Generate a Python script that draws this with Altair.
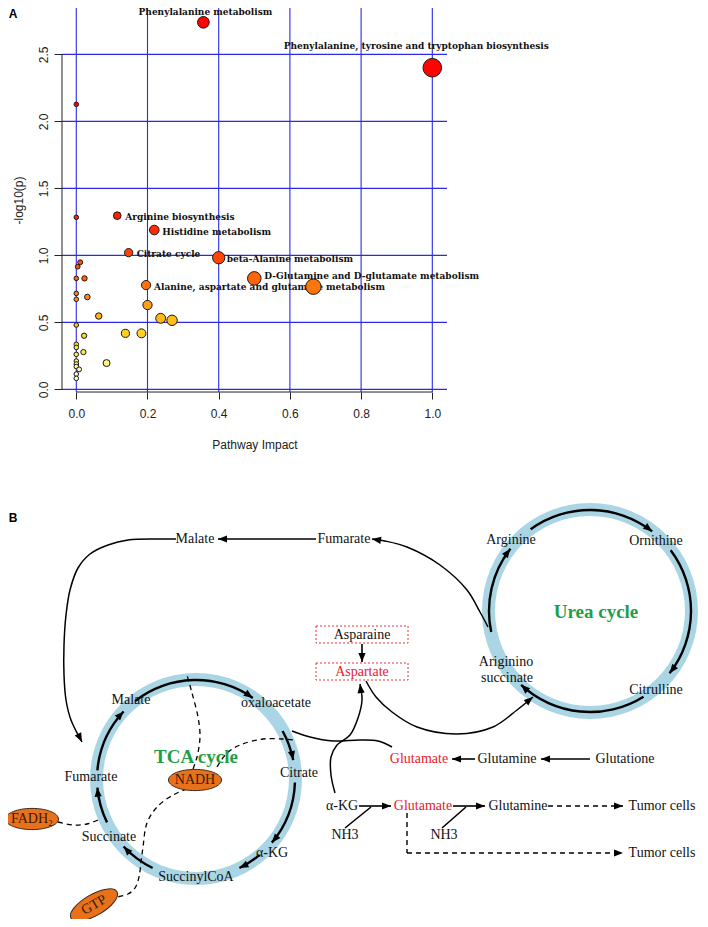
import math
import altair as alt
import numpy as np
import pandas as pd

# ======================= Panel A : pathway impact bubble plot =======================
impact = [0.357, 1.0, 0.0, 0.115, 0.0, 0.219, 0.147, 0.4, 0.011, 0.004, 0.0, 0.023,
          0.5, 0.196, 0.666, 0.0, 0.031, 0.0, 0.2, 0.063, 0.237, 0.269, 0.0, 0.138,
          0.183, 0.022, 0.0, 0.0, 0.02, 0.0, 0.0, 0.085, 0.0, 0.0, 0.008, 0.0, 0.0]
neglogp = [2.739, 2.40, 2.127, 1.296, 1.284, 1.189, 1.02, 0.982, 0.948, 0.915, 0.828, 0.828,
           0.828, 0.778, 0.766, 0.716, 0.689, 0.672, 0.629, 0.547, 0.53, 0.515, 0.48, 0.418,
           0.418, 0.40, 0.336, 0.313, 0.278, 0.261, 0.211, 0.196, 0.189, 0.17, 0.149, 0.114, 0.082]
pathway = ["Phenylalanine metabolism",
           "Phenylalanine, tyrosine and tryptophan biosynthesis",
           "", "Arginine biosynthesis", "", "Histidine metabolism", "Citrate cycle",
           "beta-Alanine metabolism", "", "", "", "",
           "D-Glutamine and D-glutamate metabolism",
           "Alanine, aspartate and glutamate metabolism"] + [""] * 23

x_ticks = [0.0, 0.2, 0.4, 0.6, 0.8, 1.0]
y_ticks = [0.0, 0.5, 1.0, 1.5, 2.0, 2.5]
frame_x = [-0.0402, 1.0413]
frame_y = [-0.02, 2.8458]

color_domain = [0.08, 0.15, 0.2, 0.3, 0.42, 0.53, 0.63, 0.72, 0.8, 0.95, 1.2, 1.5, 2.8]
color_range = ["#fffdf0", "#fff6c0", "#fff27a", "#ffe840", "#ffd21c", "#ffb81a", "#ff9e16",
               "#ff8410", "#ff6a0a", "#ff4a06", "#ff2a02", "#ff0a00", "#ff0000"]

dfA = pd.DataFrame({"impact": impact, "neglogp": neglogp, "pathway": pathway})

ax = alt.Scale(domain=[-0.19185, 1.75197], nice=False, zero=False)
ay = alt.Scale(domain=[-3.9527, 2.8458], nice=False, zero=False)

INK = "#222222"
GRID = "#2a2ae8"

x_axis = alt.Axis(values=x_ticks, format=".1f", grid=False, domain=False, tickSize=7,
                  tickColor=INK, tickWidth=1, labelFont="Liberation Sans", labelFontSize=12,
                  labelColor=INK, labelPadding=9, labelOverlap=False, labelFlush=False,
                  title="Pathway Impact", titleFont="Liberation Sans", titleFontSize=12,
                  titleFontWeight="normal", titleColor=INK, titleX=246.5, titleY=52,
                  titleAlign="center", titleBaseline="middle", offset=-527)
y_axis = alt.Axis(values=y_ticks, format=".1f", grid=False, domain=False, tickSize=8,
                  tickColor=INK, tickWidth=1, labelFont="Liberation Sans", labelFontSize=12,
                  labelColor=INK, labelAngle=270, labelAlign="center", labelBaseline="bottom",
                  labelPadding=4, labelOverlap=False, labelFlush=False,
                  title="-log10(p)", titleFont="Liberation Sans", titleFontSize=12,
                  titleFontWeight="normal", titleColor=INK, titleAngle=270, titleX=-44,
                  titleY=192, titleAlign="center", titleBaseline="middle", offset=-54)


def AX(f):
    return alt.X(f, type="quantitative", scale=ax, axis=x_axis)


def AY(f):
    return alt.Y(f, type="quantitative", scale=ay, axis=y_axis)


hgrid = alt.Chart(pd.DataFrame({"gy": y_ticks, "gx1": frame_x[0], "gx2": frame_x[1]})).mark_rule(
    color=GRID, strokeWidth=1.1).encode(x=AX("gx1"), x2="gx2:Q", y=AY("gy"))
vgrid = alt.Chart(pd.DataFrame({"gx": x_ticks, "gy1": frame_y[0], "gy2": frame_y[1]})).mark_rule(
    color=GRID, strokeWidth=1.1).encode(x=AX("gx"), y=AY("gy1"), y2="gy2:Q")
xline = alt.Chart(pd.DataFrame({"x1": [x_ticks[0]], "x2": [x_ticks[-1]], "y": [frame_y[0]]})).mark_rule(
    color=INK, strokeWidth=1).encode(x=AX("x1"), x2="x2:Q", y=AY("y"))
yline = alt.Chart(pd.DataFrame({"x": [frame_x[0]], "y1": [y_ticks[0]], "y2": [y_ticks[-1]]})).mark_rule(
    color=INK, strokeWidth=1).encode(x=AX("x"), y=AY("y1"), y2="y2:Q")

points = alt.Chart(dfA).mark_circle(stroke="#1a1a1a", strokeWidth=1, opacity=1).encode(
    x=AX("impact"),
    y=AY("neglogp"),
    size=alt.Size("impact:Q", scale=alt.Scale(domain=[0, 1], range=[21, 346]), legend=None),
    color=alt.Color("neglogp:Q", scale=alt.Scale(domain=color_domain, range=color_range,
                                                 interpolate="rgb"), legend=None),
)

top_single = ["Phenylalanine metabolism"]
top_wide = ["Phenylalanine, tyrosine and tryptophan biosynthesis"]
right_raised = ["D-Glutamine and D-glutamate metabolism"]
lab_font = dict(font="DejaVu Serif", fontWeight="bold", fontSize=9, color="#111111")
lab_right = dfA[(dfA.pathway != "") & (~dfA.pathway.isin(top_single + top_wide + right_raised))]
labels_right = alt.Chart(lab_right).mark_text(
    align="left", baseline="middle", dx=8, dy=1.5, **lab_font).encode(
    x=AX("impact"), y=AY("neglogp"), text="pathway:N")
labels_raised = alt.Chart(dfA[dfA.pathway.isin(right_raised)]).mark_text(
    align="left", baseline="middle", dx=10, dy=-2.5, **lab_font).encode(
    x=AX("impact"), y=AY("neglogp"), text="pathway:N")
labels_top1 = alt.Chart(dfA[dfA.pathway.isin(top_single)]).mark_text(
    align="center", baseline="middle", dx=2, dy=-10.5, **lab_font).encode(
    x=AX("impact"), y=AY("neglogp"), text="pathway:N")
labels_top2 = alt.Chart(dfA[dfA.pathway.isin(top_wide)]).mark_text(
    align="center", baseline="middle", dx=-16, dy=-22, **lab_font).encode(
    x=AX("impact"), y=AY("neglogp"), text="pathway:N")

panelA = alt.layer(hgrid, vgrid, xline, yline, labels_right, labels_raised,
                   labels_top1, labels_top2, points)

# ======================= Panel B : metabolic pathway diagram =======================
bx = alt.Scale(domain=[8, 700], nice=False, zero=False)
by = alt.Scale(domain=[8, 919], nice=False, zero=False, reverse=True)


def PX(f):
    return alt.X(f, type="quantitative", scale=bx, axis=None)


def PY(f):
    return alt.Y(f, type="quantitative", scale=by, axis=None)


# cycles (rings)
ring_name = ["TCA", "Urea"]
ring_cx = [196, 590]
ring_cy = [779, 611]
ring_outer = [106, 108]
ring_width = 13

# arcs of each cycle (clock degrees, 0 = 12 o'clock, clockwise)
arc_cycle = ["TCA"] * 7 + ["Urea"] * 4
arc_start = [322, 61, 92, 140, 206, 244, 275, 324, 53, 148, 258]
arc_end = [395, 79, 130, 154, 227, 265, 313, 398, 128, 223, 308]

# straight solid arrows
arrow_x1 = [316, 362, 475, 590, 359, 453]
arrow_y1 = [539, 644, 759, 759, 806, 806]
arrow_x2 = [218, 362, 452, 541, 391, 485]
arrow_y2 = [539, 662, 759, 759, 806, 806]
# plain NH3 connector lines
nh3_x1 = [345, 442]
nh3_y1 = [828, 828]
nh3_x2 = [371, 466]
nh3_y2 = [807, 807]
# dashed segments (arrow tip at end of segments flagged)
dash_x1 = [548, 407, 407]
dash_y1 = [806, 813, 853]
dash_x2 = [623, 407, 623]
dash_y2 = [806, 853, 853]
dash_tip = [True, False, True]

# solid curves (with arrow flag)
curves = {
    "malate_fumarate": ([176, 158, 128, 108, 90, 78, 70, 66, 64, 64, 66, 71, 82],
                        [539, 539, 540, 545, 554, 568, 590, 615, 645, 675, 700, 720, 742], True),
    "argsucc_fumarate": ([488, 480, 467, 440, 407, 385, 372],
                         [627, 612, 590, 565, 547, 541, 539], True),
    "oaa_glutamate": ([292, 310, 333, 360, 378, 392],
                      [731, 737, 741, 740, 741, 747], False),
    "akg_aspartate": ([335, 331, 331, 337, 350, 358, 362, 360],
                      [793, 775, 757, 745, 735, 718, 700, 684], True),
    "aspartate_argsucc": ([366, 376, 392, 417, 457, 493, 517, 533],
                          [681, 697, 712, 727, 734, 727, 710, 697], True),
}
# dashed curves (cofactors)
dashed_curves = {
    "nadh_top": ([193, 197, 200, 198, 192, 187], [769, 757, 737, 717, 693, 675]),
    "nadh_right": ([217, 227, 240, 263, 283, 293], [767, 753, 745, 739, 739, 740]),
    "nadh_gtp": ([187, 173, 157, 147, 143, 141, 139, 135, 128, 117],
                 [789, 795, 807, 823, 847, 862, 877, 888, 894, 897]),
    "fadh": ([58, 73, 87, 98], [822, 825, 824, 820]),
}

# cofactor ellipses
ell_label = ["NADH", "FADH\u2082", "GTP"]
ell_x = [195, 32, 94]
ell_y = [780, 819, 905]
ell_angle = [0, 0, 330]

# dotted red boxes
box_label = ["Asparaine", "Aspartate"]
box_x1 = [316, 316]
box_x2 = [408, 408]
box_y1 = [626, 663]
box_y2 = [643, 680]

# labels
black_label = ["Malate", "Fumarate", "Arginine", "Ornithine", "Citrulline", "Ariginino",
               "succinate", "Asparaine", "Malate", "oxaloacetate", "Citrate", "\u03b1-KG",
               "SuccinylCoA", "Succinate", "Fumarate", "Glutamine", "Glutatione", "\u03b1-KG",
               "NH3", "Glutamine", "NH3", "Tumor cells", "Tumor cells"]
black_x = [195, 344, 511, 656, 656, 506, 507, 362, 131, 276, 299, 272, 196, 109, 91, 507,
           625, 342, 345, 518, 444, 662, 662]
black_y = [539, 539, 540, 541, 690, 662, 678, 635, 700, 703, 773, 853, 877, 837, 777, 759,
           759, 806, 835, 806, 835, 806, 853]
red_label = ["Aspartate", "Glutamate", "Glutamate"]
red_x = [362, 419, 423]
red_y = [672, 759, 806]
green_label = ["Urea cycle", "TCA cycle"]
green_x = [596, 196]
green_y = [612, 757]
panel_label = ["A", "B"]
panel_x = [13, 13]
panel_y = [14, 517.5]

# ---- build tables ----
ring_df = pd.DataFrame({"cycle": ring_name, "cx": ring_cx, "cy": ring_cy, "ro": ring_outer,
                        "ri": [o - ring_width for o in ring_outer]})
arc_df = pd.DataFrame({"cycle": arc_cycle, "start": arc_start, "end": arc_end}).merge(ring_df, on="cycle")
arc_df["r"] = arc_df["ro"] - 7
arc_df["t1"] = np.radians(arc_df["start"])
arc_df["t2"] = np.radians(arc_df["end"])
arc_df["r1"] = arc_df["r"] - 1.2
arc_df["r2"] = arc_df["r"] + 1.2

HEAD = 4.5
tips = []
for x1, y1, x2, y2 in zip(arrow_x1, arrow_y1, arrow_x2, arrow_y2):
    tips.append((x2, y2, math.degrees(math.atan2(x2 - x1, -(y2 - y1))) % 360))
for x1, y1, x2, y2, t in zip(dash_x1, dash_y1, dash_x2, dash_y2, dash_tip):
    if t:
        tips.append((x2, y2, math.degrees(math.atan2(x2 - x1, -(y2 - y1))) % 360))
for name, (xs, ys, has) in curves.items():
    if has:
        tips.append((xs[-1], ys[-1], math.degrees(math.atan2(xs[-1] - xs[-2], -(ys[-1] - ys[-2]))) % 360))
for _, row in arc_df.iterrows():
    th = math.radians(row["end"])
    tips.append((row["cx"] + row["r"] * math.sin(th), row["cy"] - row["r"] * math.cos(th),
                 (row["end"] + 90) % 360))
tip_df = pd.DataFrame(tips, columns=["tx", "ty", "ang"])
tip_df["hx"] = tip_df["tx"] - HEAD * np.sin(np.radians(tip_df["ang"]))
tip_df["hy"] = tip_df["ty"] + HEAD * np.cos(np.radians(tip_df["ang"]))

seg_df = pd.DataFrame({"x1": arrow_x1 + nh3_x1, "y1": arrow_y1 + nh3_y1,
                       "x2": arrow_x2 + nh3_x2, "y2": arrow_y2 + nh3_y2})
dash_df = pd.DataFrame({"x1": dash_x1, "y1": dash_y1, "x2": dash_x2, "y2": dash_y2})

crow = []
for name, (xs, ys, _) in curves.items():
    for i, (x, y) in enumerate(zip(xs, ys)):
        crow.append((name, i, x, y))
curve_df = pd.DataFrame(crow, columns=["cid", "seq", "x", "y"])
drow = []
for name, (xs, ys) in dashed_curves.items():
    for i, (x, y) in enumerate(zip(xs, ys)):
        drow.append((name, i, x, y))
dcurve_df = pd.DataFrame(drow, columns=["cid", "seq", "x", "y"])

ell_df = pd.DataFrame({"label": ell_label, "x": ell_x, "y": ell_y, "angle": ell_angle})
box_df = pd.DataFrame({"label": box_label, "x1": box_x1, "x2": box_x2, "y1": box_y1, "y2": box_y2})
black_df = pd.DataFrame({"label": black_label, "x": black_x, "y": black_y})
red_df = pd.DataFrame({"label": red_label, "x": red_x, "y": red_y})
green_df = pd.DataFrame({"label": green_label, "x": green_x, "y": green_y})
panel_df = pd.DataFrame({"label": panel_label, "x": panel_x, "y": panel_y})

ARROW = "M0,-1L0.8,1L-0.8,1Z"
ELLIPSE = "M-1,0A1,0.4,0,1,1,1,0A1,0.4,0,1,1,-1,0Z"

rings = alt.Chart(ring_df).mark_arc(color="#a9d5e4").encode(
    x=PX("cx"), y=PY("cy"), theta=alt.value(0), theta2=alt.value(6.2832),
    radius=alt.Radius("ro:Q", scale=None), radius2=alt.Radius2("ri:Q"))
arcs = alt.Chart(arc_df).mark_arc(color="black").encode(
    x=PX("cx"), y=PY("cy"),
    theta=alt.Theta("t1:Q", scale=None, stack=None), theta2=alt.Theta2("t2:Q"),
    radius=alt.Radius("r1:Q", scale=None), radius2=alt.Radius2("r2:Q"))
segs = alt.Chart(seg_df).mark_rule(color="black", strokeWidth=1.6).encode(
    x=PX("x1"), y=PY("y1"), x2="x2:Q", y2="y2:Q")
dsegs = alt.Chart(dash_df).mark_rule(color="black", strokeWidth=1.4, strokeDash=[5, 4]).encode(
    x=PX("x1"), y=PY("y1"), x2="x2:Q", y2="y2:Q")
clines = alt.Chart(curve_df).mark_line(color="black", strokeWidth=1.5, interpolate="catmull-rom").encode(
    x=PX("x"), y=PY("y"), detail="cid:N", order="seq:Q")
dlines = alt.Chart(dcurve_df).mark_line(color="black", strokeWidth=1.3, strokeDash=[5, 4],
                                        interpolate="catmull-rom").encode(
    x=PX("x"), y=PY("y"), detail="cid:N", order="seq:Q")
heads = alt.Chart(tip_df).mark_point(shape=ARROW, filled=True, color="black", opacity=1,
                                     size=81, strokeWidth=0).encode(
    x=PX("hx"), y=PY("hy"), angle=alt.Angle("ang:Q", scale=None))
ellipses = alt.Chart(ell_df).mark_point(shape=ELLIPSE, filled=False, fill="#e8711c", stroke="#3a2a1a",
                                        strokeWidth=1, opacity=1, fillOpacity=1, size=2809).encode(
    x=PX("x"), y=PY("y"), angle=alt.Angle("angle:Q", scale=None))
boxes = alt.Chart(box_df).mark_rect(fill="white", stroke="#e8303a", strokeWidth=1,
                                    strokeDash=[2, 2]).encode(
    x=PX("x1"), x2="x2:Q", y=PY("y1"), y2="y2:Q")

serif = dict(font="Liberation Serif", fontSize=14, align="center", baseline="middle")
t_black = alt.Chart(black_df).mark_text(color="#111111", **serif).encode(x=PX("x"), y=PY("y"), text="label:N")
t_red = alt.Chart(red_df).mark_text(color="#e8202a", **serif).encode(x=PX("x"), y=PY("y"), text="label:N")
t_green = alt.Chart(green_df).mark_text(color="#1f9e4a", font="Liberation Serif", fontSize=19,
                                        fontWeight="bold", align="center", baseline="middle").encode(
    x=PX("x"), y=PY("y"), text="label:N")
t_ell = alt.Chart(ell_df).mark_text(color="#3a1a00", **serif).encode(
    x=PX("x"), y=PY("y"), text="label:N", angle=alt.Angle("angle:Q", scale=None))
t_panel = alt.Chart(panel_df).mark_text(font="Liberation Sans", fontSize=12, fontWeight="bold",
                                        color="black", align="center", baseline="middle").encode(
    x=PX("x"), y=PY("y"), text="label:N")

panelB = alt.layer(rings, arcs, segs, dsegs, clines, dlines, heads, ellipses, boxes,
                   t_black, t_red, t_green, t_ell, t_panel)

chart = alt.layer(panelA, panelB).resolve_scale(x="independent", y="independent").properties(
    width=692, height=911, padding=0, autosize="none", background="white"
).configure_view(stroke=None)

chart.save("out.html", embed_options={"renderer": "svg", "actions": False})
